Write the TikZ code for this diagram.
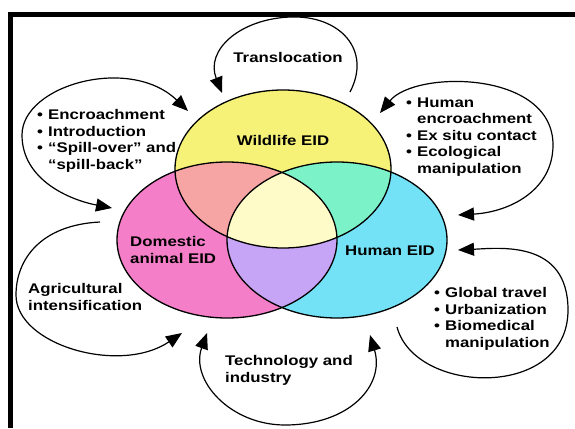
\documentclass[tikz,border=0pt]{standalone}
\usepackage{fontspec}
\setmainfont{Liberation Sans}[FakeStretch=1.2]
\usetikzlibrary{arrows.meta}

\definecolor{wildY}{RGB}{246,242,120}
\definecolor{domP}{RGB}{244,126,200}
\definecolor{humC}{RGB}{116,226,246}
\definecolor{wdS}{RGB}{247,164,164}
\definecolor{whG}{RGB}{124,242,200}
\definecolor{dhL}{RGB}{198,164,246}
\definecolor{allY}{RGB}{255,251,200}

\newcommand\itm{\makebox[11pt][l]{\textbullet}}
\newcommand\cnt{\makebox[11pt][l]{}}

\begin{document}
\begin{tikzpicture}[x=1pt,y=-1pt,
  lbl/.style={inner sep=0pt, font=\fontsize{14}{16.5}\selectfont\bfseries, align=left},
  ring/.style={line width=1.3pt, black},
  loopline/.style={line width=1.2pt, black},
  onehead/.style={loopline, -{Triangle[length=16pt,width=13pt]}},
  twohead/.style={loopline, {Triangle[length=16pt,width=13pt]}-{Triangle[length=16pt,width=13pt]}}]

\useasboundingbox (0,0) rectangle (575,428);

% frame (left and top rules)
\draw[line width=5pt] (10.5,428) -- (10.5,14.5) -- (575,14.5);

% Venn diagram: single-set fills
\fill[wildY] (283,169) ellipse [x radius=108pt, y radius=79pt];
\fill[domP]  (227,240) ellipse [x radius=110pt, y radius=78pt];
\fill[humC]  (337,240) ellipse [x radius=110pt, y radius=78pt];
% pairwise overlaps
\begin{scope}
  \clip (283,169) ellipse [x radius=108pt, y radius=79pt];
  \fill[wdS] (227,240) ellipse [x radius=110pt, y radius=78pt];
  \fill[whG] (337,240) ellipse [x radius=110pt, y radius=78pt];
\end{scope}
\begin{scope}
  \clip (227,240) ellipse [x radius=110pt, y radius=78pt];
  \fill[dhL] (337,240) ellipse [x radius=110pt, y radius=78pt];
\end{scope}
% triple overlap
\begin{scope}
  \clip (283,169) ellipse [x radius=108pt, y radius=79pt];
  \clip (227,240) ellipse [x radius=110pt, y radius=78pt];
  \fill[allY] (337,240) ellipse [x radius=110pt, y radius=78pt];
\end{scope}
% outlines
\draw[ring] (283,169) ellipse [x radius=108pt, y radius=79pt];
\draw[ring] (227,240) ellipse [x radius=110pt, y radius=78pt];
\draw[ring] (337,240) ellipse [x radius=110pt, y radius=78pt];

% set labels (multi-line nodes are placed by the baseline of their last line)
\node[lbl, anchor=base] (wild) at (283,145) {Wildlife EID};
\node[lbl, anchor=base west] (dom) at (130,263) {Domestic\\animal EID};
\node[lbl, anchor=base west] (hum) at (345,255) {Human EID};

% driver labels
\node[lbl, anchor=base] (transl) at (288,63) {Translocation};
\node[lbl, anchor=base west] (encr) at (37,169)
  {\itm Encroachment\\\itm Introduction\\\itm “Spill-over” and\\\cnt “spill-back”};
\node[lbl, anchor=base west] (humenc) at (406,173)
  {\itm Human\\\cnt encroachment\\\itm Ex situ contact\\\itm Ecological\\\cnt manipulation};
\node[lbl, anchor=base west] (travel) at (434,347)
  {\itm Global travel\\\itm Urbanization\\\itm Biomedical\\\cnt manipulation};
\node[lbl, anchor=base west] (agri) at (28,310) {Agricultural\\intensification};
\node[lbl, anchor=base west] (tech) at (225,382) {Technology and\\industry};

% loop end points
\coordinate (trS) at (350,92);
\coordinate (trE) at (222,93);
\coordinate (enA) at (112,208);
\coordinate (enB) at (188,111);
\coordinate (hiA) at (380,113);
\coordinate (hiB) at (458,215);
\coordinate (glS) at (397,327);
\coordinate (glE) at (458,250);
\coordinate (teA) at (207,333);
\coordinate (teB) at (370,335);
\coordinate (agS) at (100,222);
\coordinate (agE) at (182,333);

% loops
\draw[onehead] (trS) .. controls (372,50) and (340,15) .. (290,17)
                     .. controls (240,19) and (205,50) .. (trE);
\draw[twohead] (enA) .. controls (70,200) and (22,180) .. (22,135)
                     .. controls (22,85) and (130,55) .. (enB);
\draw[twohead] (hiA) .. controls (415,70) and (553,70) .. (553,145)
                     .. controls (553,190) and (510,212) .. (hiB);
\draw[onehead] (glS) .. controls (415,395) and (568,400) .. (568,310)
                     .. controls (568,240) and (500,248) .. (glE);
\draw[twohead] (teA) .. controls (190,380) and (230,425) .. (285,425)
                     .. controls (350,425) and (385,385) .. (teB);
\draw[onehead] (agS) .. controls (40,225) and (16,260) .. (16,295)
                     .. controls (16,345) and (120,375) .. (agE);

\end{tikzpicture}
\end{document}
